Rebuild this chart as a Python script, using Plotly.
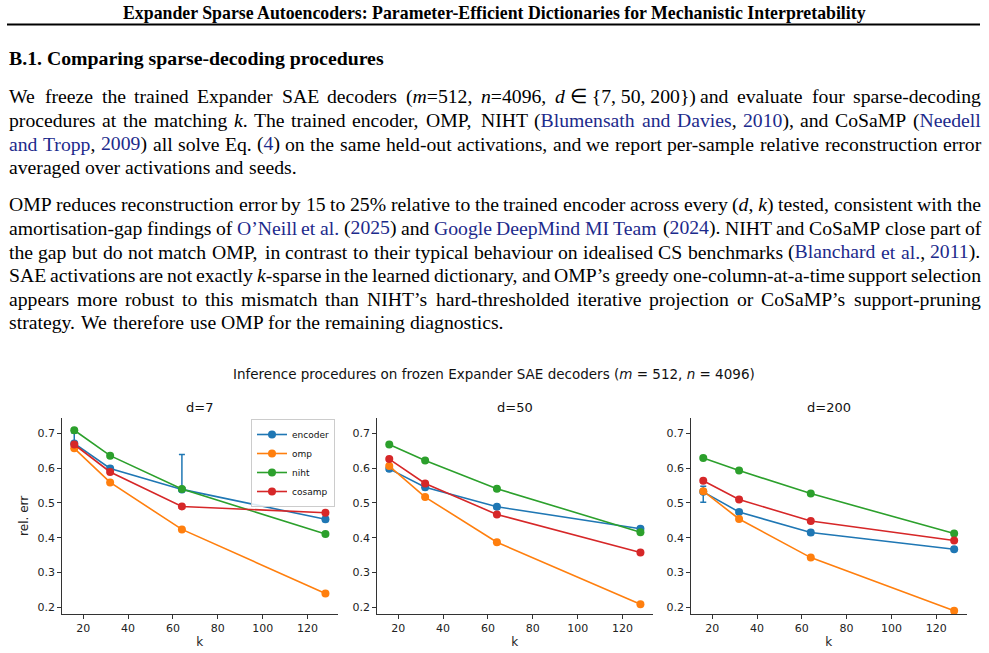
import re
import plotly.graph_objects as go

W, H = 989, 653

# ---------------- data ----------------
k_values = [16, 32, 64, 128]
method_names = ["encoder", "omp", "niht", "cosamp"]
method_colors = ["#1f77b4", "#ff7f0e", "#2ca02c", "#d62728"]
panel_titles = ["d=7", "d=50", "d=200"]

encoder_d7 = [0.671, 0.599, 0.539, 0.453]
omp_d7 = [0.657, 0.559, 0.424, 0.240]
niht_d7 = [0.709, 0.636, 0.540, 0.411]
cosamp_d7 = [0.668, 0.589, 0.490, 0.472]

encoder_d50 = [0.598, 0.545, 0.489, 0.426]
omp_d50 = [0.606, 0.517, 0.387, 0.209]
niht_d50 = [0.668, 0.622, 0.541, 0.416]
cosamp_d50 = [0.626, 0.556, 0.467, 0.358]

encoder_d200 = [0.532, 0.474, 0.415, 0.367]
omp_d200 = [0.534, 0.454, 0.343, 0.190]
niht_d200 = [0.629, 0.593, 0.527, 0.412]
cosamp_d200 = [0.564, 0.510, 0.448, 0.392]

encoder_err_plus_d7 = [0.030, 0.006, 0.100, 0.006]
encoder_err_minus_d7 = [0.008, 0.006, 0.006, 0.006]
encoder_err_d50 = [0.006, 0.006, 0.006, 0.006]
encoder_err_plus_d200 = [0.016, 0.006, 0.006, 0.006]
encoder_err_minus_d200 = [0.030, 0.006, 0.006, 0.006]

y_ticks = [0.2, 0.3, 0.4, 0.5, 0.6, 0.7]
x_ticks = [20, 40, 60, 80, 100, 120]

# ---------------- page text ----------------
header_text = "Expander Sparse Autoencoders: Parameter-Efficient Dictionaries for Mechanistic Interpretability"
section_text = "B.1. Comparing sparse-decoding procedures"
NB = "\u00a0"
para1 = [
    f"We freeze the trained Expander SAE decoders (<i>m</i>=512, <i>n</i>=4096, <i>d</i>{NB}∈{NB}{{7,{NB}50,{NB}200}}) and evaluate four sparse-decoding",
    "procedures at the matching <i>k</i>. The trained encoder, OMP, NIHT (<c>Blumensath and Davies</c>, <c>2010</c>), and CoSaMP (<c>Needell</c>",
    "<c>and Tropp</c>, <c>2009</c>) all solve Eq. (<c>4</c>) on the same held-out activations, and we report per-sample relative reconstruction error",
    "averaged over activations and seeds.",
]
para2 = [
    f"OMP reduces reconstruction error by 15 to 25% relative to the trained encoder across every (<i>d</i>,{NB}<i>k</i>) tested, consistent with the",
    "amortisation-gap findings of <c>O’Neill et al.</c> (<c>2025</c>) and <c>Google DeepMind MI Team</c> (<c>2024</c>). NIHT and CoSaMP close part of",
    "the gap but do not match OMP, in contrast to their typical behaviour on idealised CS benchmarks (<c>Blanchard et al.</c>, <c>2011</c>).",
    "SAE activations are not exactly <i>k</i>-sparse in the learned dictionary, and OMP’s greedy one-column-at-a-time support selection",
    "appears more robust to this mismatch than NIHT’s hard-thresholded iterative projection or CoSaMP’s support-pruning",
    "strategy. We therefore use OMP for the remaining diagnostics.",
]
para1_y = [96, 120, 143.5, 167]
para2_y = [204.5, 228, 251.5, 275, 298.5, 322]

# ---------------- text layout helpers ----------------
TIMES = {' ': 250, '!': 333, '%': 833, '(': 333, ')': 333, ',': 250, '-': 333, '.': 250,
         ':': 278, ';': 278, '=': 564, '{': 480, '}': 480, '’': 333, '∈': 667, NB: 250}
for ch in "0123456789":
    TIMES[ch] = 500
TIMES.update(dict(zip("ABCDEFGHIJKLMNOPQRSTUVWXYZ",
                      [722, 667, 667, 722, 611, 556, 722, 722, 333, 389, 722, 611, 889,
                       722, 722, 556, 722, 667, 556, 611, 722, 722, 944, 722, 722, 611])))
TIMES.update(dict(zip("abcdefghijklmnopqrstuvwxyz",
                      [444, 500, 444, 500, 444, 333, 500, 500, 278, 278, 500, 278, 778,
                       500, 500, 500, 500, 333, 389, 278, 500, 500, 722, 500, 500, 444])))
TIMES_I = {'m': 722, 'n': 500, 'd': 500, 'k': 444}

BODY_FS = 19.7
LEFT, RIGHT = 8, 980
CITE = "#1c2a8c"


def parse_words(line):
    toks = re.split(r'(</?[ic]>)', line)
    st = {'i': False, 'c': False}
    chars = []
    for t in toks:
        m = re.fullmatch(r'<(/?)([ic])>', t)
        if m:
            st[m.group(2)] = (m.group(1) == '')
        else:
            for ch in t:
                chars.append((ch, st['i'], st['c']))
    words, cur = [], []
    for c in chars:
        if c[0] == ' ':
            if cur:
                words.append(cur)
            cur = []
        else:
            cur.append(c)
    if cur:
        words.append(cur)
    return words


def word_width(word):
    tot = 0
    for ch, it, _ in word:
        tot += (TIMES_I.get(ch, TIMES.get(ch, 500)) if it else TIMES.get(ch, 500))
    return tot / 1000.0 * BODY_FS


def word_html(word):
    out, cur, cur_style = [], "", None

    def flush(s, style):
        if not s:
            return ""
        if style[0]:
            s = f"<i>{s}</i>"
        if style[1]:
            s = f"<span style='color:{CITE}'>{s}</span>"
        return s
    for ch, it, ci in word:
        if (it, ci) != cur_style:
            out.append(flush(cur, cur_style) if cur_style else "")
            cur, cur_style = "", (it, ci)
        cur += ch
    out.append(flush(cur, cur_style))
    return "".join(out)


annotations = []


def add_para(lines, ys):
    for li, (line, y) in enumerate(zip(lines, ys)):
        words = parse_words(line)
        widths = [word_width(w) for w in words]
        last = (li == len(lines) - 1)
        if last or len(words) < 2:
            gap = 0.25 * BODY_FS
        else:
            gap = (RIGHT - LEFT - sum(widths)) / (len(words) - 1)
        x = LEFT
        for w, wd in zip(words, widths):
            annotations.append(dict(
                text=word_html(w), x=x / W, y=1 - y / H, xref="paper", yref="paper",
                xanchor="left", yanchor="middle", showarrow=False, borderpad=0,
                font=dict(family="Liberation Serif", size=BODY_FS, color="black")))
            x += wd + gap


add_para(para1, para1_y)
add_para(para2, para2_y)

annotations.append(dict(text=f"<b>{header_text}</b>", x=494 / W, y=1 - 13 / H, xref="paper", yref="paper",
                        xanchor="center", yanchor="middle", showarrow=False,
                        font=dict(family="Liberation Serif", size=17.8, color="black")))
annotations.append(dict(text=f"<b>{section_text}</b>", x=LEFT / W, y=1 - 58 / H, xref="paper", yref="paper",
                        xanchor="left", yanchor="middle", showarrow=False, borderpad=0,
                        font=dict(family="Liberation Serif", size=19.8, color="black")))

# ---------------- chart ----------------
CH_FONT = "DejaVu Sans"
annotations.append(dict(text="Inference procedures on frozen Expander SAE decoders (<i>m</i> = 512, <i>n</i> = 4096)",
                        x=494 / W, y=1 - 374 / H, xref="paper", yref="paper", xanchor="center",
                        yanchor="middle", showarrow=False,
                        font=dict(family=CH_FONT, size=13.5, color="#111")))

x_domains = [[61.7 / W, 338 / W], [376.7 / W, 653 / W], [690.7 / W, 966.7 / W]]
y_domain = [1 - 614 / H, 1 - 417.7 / H]

panel_data = [
    [encoder_d7, omp_d7, niht_d7, cosamp_d7],
    [encoder_d50, omp_d50, niht_d50, cosamp_d50],
    [encoder_d200, omp_d200, niht_d200, cosamp_d200],
]
encoder_errs = [
    (encoder_err_plus_d7, encoder_err_minus_d7),
    (encoder_err_d50, encoder_err_d50),
    (encoder_err_plus_d200, encoder_err_minus_d200),
]

fig = go.Figure()
for p in range(3):
    xa = "x" if p == 0 else f"x{p + 1}"
    ya = "y" if p == 0 else f"y{p + 1}"
    for mi, (name, col) in enumerate(zip(method_names, method_colors)):
        tr = dict(x=k_values, y=panel_data[p][mi], mode="lines+markers", name=name,
                  line=dict(color=col, width=1.6), marker=dict(color=col, size=8),
                  xaxis=xa, yaxis=ya, showlegend=(p == 0), legendgroup=name)
        if name == "encoder":
            plus, minus = encoder_errs[p]
            tr["error_y"] = dict(type="data", array=plus, arrayminus=minus, symmetric=False,
                                 visible=True, color=col, thickness=1.5, width=3)
        fig.add_trace(go.Scatter(**tr))

layout = dict(width=W, height=H, margin=dict(l=0, r=0, t=0, b=0), template="none",
              paper_bgcolor="white", plot_bgcolor="white", annotations=annotations,
              showlegend=True,
              legend=dict(x=335 / W, y=1 - 419 / H, xanchor="right", yanchor="top",
                          bgcolor="rgba(255,255,255,0.85)", bordercolor="#cccccc", borderwidth=1,
                          font=dict(family=CH_FONT, size=9, color="#111"),
                          itemwidth=30, tracegroupgap=0),
              shapes=[dict(type="line", xref="paper", yref="paper", x0=7 / W, x1=980 / W,
                           y0=1 - 24.5 / H, y1=1 - 24.5 / H, line=dict(color="black", width=2))])

for p in range(3):
    xk = "xaxis" if p == 0 else f"xaxis{p + 1}"
    yk = "yaxis" if p == 0 else f"yaxis{p + 1}"
    layout[xk] = dict(domain=x_domains[p], range=[10.4, 133.6], tickvals=x_ticks,
                      ticks="outside", ticklen=3.5, tickwidth=1, tickcolor="#333",
                      showline=True, linecolor="#333", linewidth=1, showgrid=False, zeroline=False,
                      tickfont=dict(family=CH_FONT, size=11, color="#222"),
                      title=dict(text="k", font=dict(family=CH_FONT, size=12, color="#222"), standoff=3),
                      anchor="y" if p == 0 else f"y{p + 1}", automargin=False)
    layout[yk] = dict(domain=y_domain, range=[0.181, 0.745], tickvals=y_ticks,
                      ticktext=[f"{v:.1f}" for v in y_ticks],
                      ticks="outside", ticklen=3.5, tickwidth=1, tickcolor="#333",
                      showline=True, linecolor="#333", linewidth=1, showgrid=False, zeroline=False,
                      tickfont=dict(family=CH_FONT, size=11, color="#222"),
                      anchor="x" if p == 0 else f"x{p + 1}", automargin=False)
    cx = (x_domains[p][0] + x_domains[p][1]) / 2
    annotations.append(dict(text=panel_titles[p], x=cx, y=1 - 407 / H, xref="paper", yref="paper",
                            xanchor="center", yanchor="middle", showarrow=False,
                            font=dict(family=CH_FONT, size=13, color="#111")))
layout["yaxis"]["title"] = dict(text="rel. err", font=dict(family=CH_FONT, size=12, color="#222"), standoff=6)

fig.update_layout(**layout)
fig.write_html("out.html")
